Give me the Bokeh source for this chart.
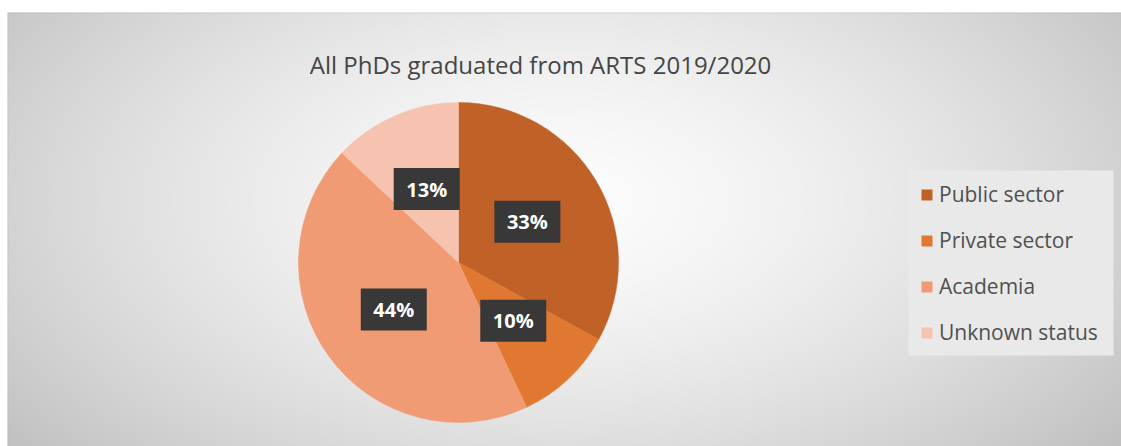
import numpy as np
from math import pi
from bokeh.plotting import figure
from bokeh.models import ColumnDataSource, Range1d, Legend, LegendItem, Label, BoxAnnotation
from bokeh.embed import file_html
from bokeh.resources import INLINE
from bokeh.core.properties import value

# ---- data ----
categories = ["Public sector", "Private sector", "Academia", "Unknown status"]
shares = [33, 10, 44, 13]
colors = ["#C06228", "#E07832", "#F09B73", "#F5C3AF"]
title_text = "All PhDs graduated from ARTS 2019/2020"

# ---- figure (data units == screen pixels of the page) ----
W, H = 1121, 446
p = figure(width=W, height=H, output_backend="svg", toolbar_location=None,
           x_range=Range1d(0, W), y_range=Range1d(0, H),
           x_axis_type=None, y_axis_type=None, min_border=0)
p.outline_line_color = None
p.background_fill_color = "white"
p.border_fill_color = "white"

def sy(screen_y):
    return H - screen_y

# radial grey background of the chart area (screen x 7..1121, y 12..446)
x0, top = 7, 12
nx, ny = W - x0, H - top
xs = np.arange(nx) + x0 + 0.5
ys_screen = H - (np.arange(ny) + 0.5)
X, Y = np.meshgrid(xs, ys_screen)
d = np.sqrt(((X - 560) / 600) ** 2 + ((Y - 200) / 330) ** 2)
g = np.clip(252 - 46 * np.minimum(d, 1.3) ** 1.5, 0, 255).astype(np.uint8)
img = np.empty((ny, nx), dtype=np.uint32)
view = img.view(dtype=np.uint8).reshape((ny, nx, 4))
view[..., 0] = g
view[..., 1] = g
view[..., 2] = g
view[..., 3] = 255
p.image_rgba(image=[img], x=x0, y=0, dw=nx, dh=ny)

p.add_layout(BoxAnnotation(left=x0 + 0.5, right=1400, bottom=-50, top=sy(top + 0.5),
                           fill_alpha=0, line_color="#a8a8a8", line_width=1))

# ---- pie ----
total = sum(shares)
cum = np.cumsum([0] + shares) / total
start = pi / 2 - 2 * pi * cum[:-1]
end = pi / 2 - 2 * pi * cum[1:]
mid = (start + end) / 2
cx, cy, R = 458, sy(262), 160
src = ColumnDataSource(dict(
    cat=categories, share=shares, color=colors, start=start, end=end,
    lx=cx + 0.5 * R * np.cos(mid), ly=cy + 0.5 * R * np.sin(mid),
    lab=[f"{s}%" for s in shares]))

wedges = p.wedge(x=cx, y=cy, radius=R, start_angle="start", end_angle="end",
                 direction="clock", fill_color="color", line_color="color",
                 line_width=0.5, source=src)

p.rect(x="lx", y="ly", width=66, height=42, width_units="screen",
       height_units="screen", fill_color="#383838", line_color=None, source=src)
p.text(x="lx", y="ly", text="lab", text_align="center", text_baseline="middle",
       text_color="white", text_font=value("Open Sans"), text_font_style="bold",
       text_font_size="20px", source=src)

# ---- title ----
p.add_layout(Label(x=540, y=sy(64), text=title_text, text_align="center",
                   text_baseline="alphabetic", text_font="Open Sans",
                   text_font_size="24px", text_color="#454545"))

# ---- legend ----
p.add_layout(BoxAnnotation(left=908, right=1113, top=sy(170), bottom=sy(355),
                           fill_color="#e9e9e9", fill_alpha=1, line_color=None))
items = [LegendItem(label=c, renderers=[wedges], index=i) for i, c in enumerate(categories)]
legend = Legend(items=items, location=(920, 100), glyph_width=13, glyph_height=13,
                label_height=28, spacing=18, padding=0, margin=0, label_standoff=6,
                label_text_font="Open Sans", label_text_font_size="21px",
                label_text_color="#505050", background_fill_alpha=0,
                border_line_color=None)
p.add_layout(legend)

open("out.html", "w").write(file_html(p, INLINE))
